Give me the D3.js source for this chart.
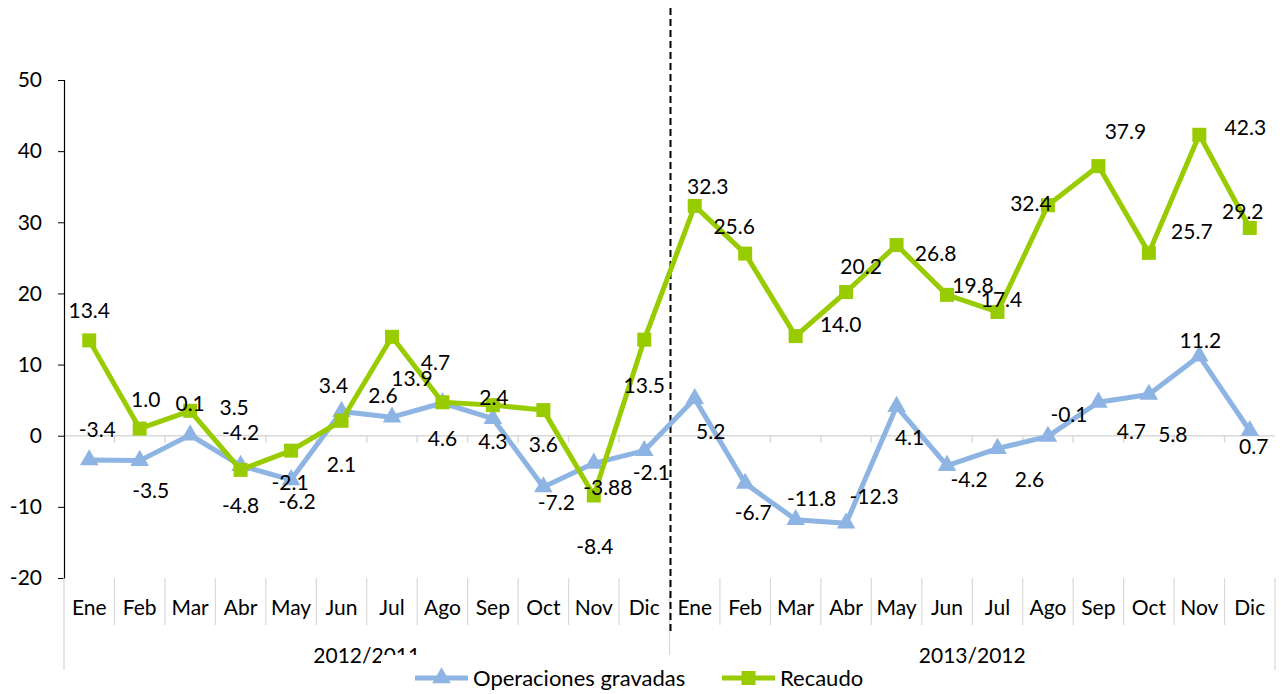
<!DOCTYPE html>
<html>
<head>
<meta charset="utf-8">
<script src="https://cdn.jsdelivr.net/npm/d3@7"></script>
<style>
  body { margin: 0; background: #fff; }
  text { font-family: Lato, "Open Sans", sans-serif; fill: #000; }
</style>
</head>
<body>
<div id="chart"></div>
<script>
const months = ["Ene","Feb","Mar","Abr","May","Jun","Jul","Ago","Sep","Oct","Nov","Dic"];
const groups = ["2012/2011", "2013/2012"];
const yTicks = [-20, -10, 0, 10, 20, 30, 40, 50];

const recaudo = [13.4, 1.0, 3.5, -4.8, -2.1, 2.1, 13.9, 4.7, 4.3, 3.6, -8.4, 13.5,
                 32.3, 25.6, 14.0, 20.2, 26.8, 19.8, 17.4, 32.4, 37.9, 25.7, 42.3, 29.2];
const operaciones = [-3.4, -3.5, 0.1, -4.2, -6.2, 3.4, 2.6, 4.6, 2.4, -7.2, -3.88, -2.1,
                     5.2, -6.7, -11.8, -12.3, 4.1, -4.2, -1.8, -0.1, 4.7, 5.8, 11.2, 0.7];

// label texts as they appear in the chart
const recaudoLabels = ["13.4","1.0","3.5","-4.8","-2.1","2.1","13.9","4.7","4.3","3.6","-8.4","13.5",
                       "32.3","25.6","14.0","20.2","26.8","19.8","17.4","32.4","37.9","25.7","42.3","29.2"];
const operacionesLabels = ["-3.4","-3.5","0.1","-4.2","-6.2","3.4","2.6","4.6","2.4","-7.2","-3.88","-2.1",
                           "5.2","-6.7","-11.8","-12.3","4.1","-4.2","2.6","-0.1","4.7","5.8","11.2","0.7"];

// label offsets from the marker (layout only)
const recaudoOff = [[0,-30],[6,-29],[44,-3],[0,36],[-1,32],[0,44],[20,42],[-7,-40],[0,37],[0,35],[1,51],[0,46],
                    [13,-19],[-11,-27],[45,-11],[15,-25],[39,9],[26,-9],[4,-12],[-17,-2],[27,-34],[43,-21],[46,-7],[-7,-16]];
const operacionesOff = [[8,-30],[11,30],[0,-31],[0,-33],[6,22],[-8,-26],[-9,-22],[0,36],[1,-21],[13,16],[14,24],[7,22],
                        [16,33],[8,29],[16,-21],[28,-27],[13,31],[22,14],[32,31],[21,-22],[33,29],[24,40],[1,-15],[4,16]];

const width = 1285, height = 694;
const fs = "21px";
const svg = d3.select("#chart").append("svg")
    .attr("width", width).attr("height", height);

const cats = d3.range(24);
const x = d3.scaleBand().domain(cats).range([64, 1275]);
const y = d3.scaleLinear().domain([-20, 50]).range([578, 80]);
const cx = i => x(i) + x.bandwidth() / 2;

const blue = "#8eb4e3", green = "#99cc00";

// zero line + small ticks
svg.append("line")
    .attr("x1", 64).attr("x2", 1275)
    .attr("y1", y(0)).attr("y2", y(0))
    .attr("stroke", "#d9d9d9").attr("stroke-width", 1.5);
svg.selectAll(".zt").data(d3.range(1, 24)).enter().append("line")
    .attr("x1", i => x(i)).attr("x2", i => x(i))
    .attr("y1", y(0)).attr("y2", y(0) + 7)
    .attr("stroke", "#d9d9d9").attr("stroke-width", 1.5);

// y axis
const yAxis = svg.append("g")
    .attr("transform", "translate(64,0)")
    .call(d3.axisLeft(y).tickValues(yTicks).tickSize(6).tickPadding(16).tickFormat(d => String(d)));
yAxis.select(".domain").attr("stroke", "#000").attr("stroke-width", 1.2);
yAxis.selectAll("line").attr("stroke", "#000");
yAxis.selectAll("text").style("font-size", fs).style("font-family", "Lato");

// category separators
svg.selectAll(".sep").data(d3.range(0, 25)).enter().append("line")
    .attr("x1", i => i < 24 ? x(i) : 1275).attr("x2", i => i < 24 ? x(i) : 1275)
    .attr("y1", 578)
    .attr("y2", i => (i % 12 === 0) ? 670 : 625)
    .attr("stroke", "#d9d9d9").attr("stroke-width", 1.2);

// month labels
svg.selectAll(".month").data(cats).enter().append("text")
    .attr("x", cx).attr("y", 608).attr("dy", "0.35em")
    .attr("text-anchor", "middle")
    .style("font-size", fs)
    .text(i => months[i % 12]);

// group labels
svg.selectAll(".grp").data(groups).enter().append("text")
    .attr("x", (d, g) => (x(g * 12) + x(g * 12 + 11) + x.bandwidth()) / 2)
    .attr("y", 663)
    .attr("text-anchor", "middle")
    .style("font-size", fs)
    .text(d => d);

// dashed divider
svg.append("line")
    .attr("x1", x(12) + 1).attr("x2", x(12) + 1)
    .attr("y1", 8).attr("y2", 632)
    .attr("stroke", "#000").attr("stroke-width", 2)
    .attr("stroke-dasharray", "7,4");

const line = d3.line().x((d, i) => cx(i)).y(d => y(d));
const tri = d3.symbol().type(d3.symbolTriangle).size(150);

// operaciones series
svg.append("path").datum(operaciones)
    .attr("d", line).attr("fill", "none")
    .attr("stroke", blue).attr("stroke-width", 5).attr("stroke-linejoin", "round");
svg.selectAll(".tri").data(operaciones).enter().append("path")
    .attr("d", tri)
    .attr("transform", (d, i) => `translate(${cx(i)},${y(d)})`)
    .attr("fill", blue);

// recaudo series
svg.append("path").datum(recaudo)
    .attr("d", line).attr("fill", "none")
    .attr("stroke", green).attr("stroke-width", 5).attr("stroke-linejoin", "round");
svg.selectAll(".sq").data(recaudo).enter().append("rect")
    .attr("x", (d, i) => cx(i) - 7).attr("y", d => y(d) - 7)
    .attr("width", 14).attr("height", 14)
    .attr("fill", green);

// data labels
svg.selectAll(".lo").data(operaciones).enter().append("text")
    .attr("x", (d, i) => cx(i) + operacionesOff[i][0])
    .attr("y", (d, i) => y(d) + operacionesOff[i][1])
    .attr("dy", "0.35em").attr("text-anchor", "middle")
    .style("font-size", fs)
    .text((d, i) => operacionesLabels[i]);
svg.selectAll(".lr").data(recaudo).enter().append("text")
    .attr("x", (d, i) => cx(i) + recaudoOff[i][0])
    .attr("y", (d, i) => y(d) + recaudoOff[i][1])
    .attr("dy", "0.35em").attr("text-anchor", "middle")
    .style("font-size", fs)
    .text((d, i) => recaudoLabels[i]);

// legend (white box overlaps group label like the original)
const legend = svg.append("g");
legend.append("rect")
    .attr("x", 381).attr("y", 655).attr("width", 490).attr("height", 39)
    .attr("fill", "#fff");
const items = [
  {name: "Operaciones gravadas", color: blue, shape: "tri", x0: 415},
  {name: "Recaudo", color: green, shape: "sq", x0: 722}
];
items.forEach(it => {
  const g = legend.append("g");
  g.append("line").attr("x1", it.x0).attr("x2", it.x0 + 53)
      .attr("y1", 678).attr("y2", 678)
      .attr("stroke", it.color).attr("stroke-width", 5);
  if (it.shape === "tri") {
    g.append("path").attr("d", tri).attr("transform", `translate(${it.x0 + 26.5},678)`).attr("fill", it.color);
  } else {
    g.append("rect").attr("x", it.x0 + 19.5).attr("y", 671).attr("width", 14).attr("height", 14).attr("fill", it.color);
  }
  g.append("text").attr("x", it.x0 + 58).attr("y", 678).attr("dy", "0.35em")
      .style("font-size", "22px").text(it.name);
});
</script>
</body>
</html>
